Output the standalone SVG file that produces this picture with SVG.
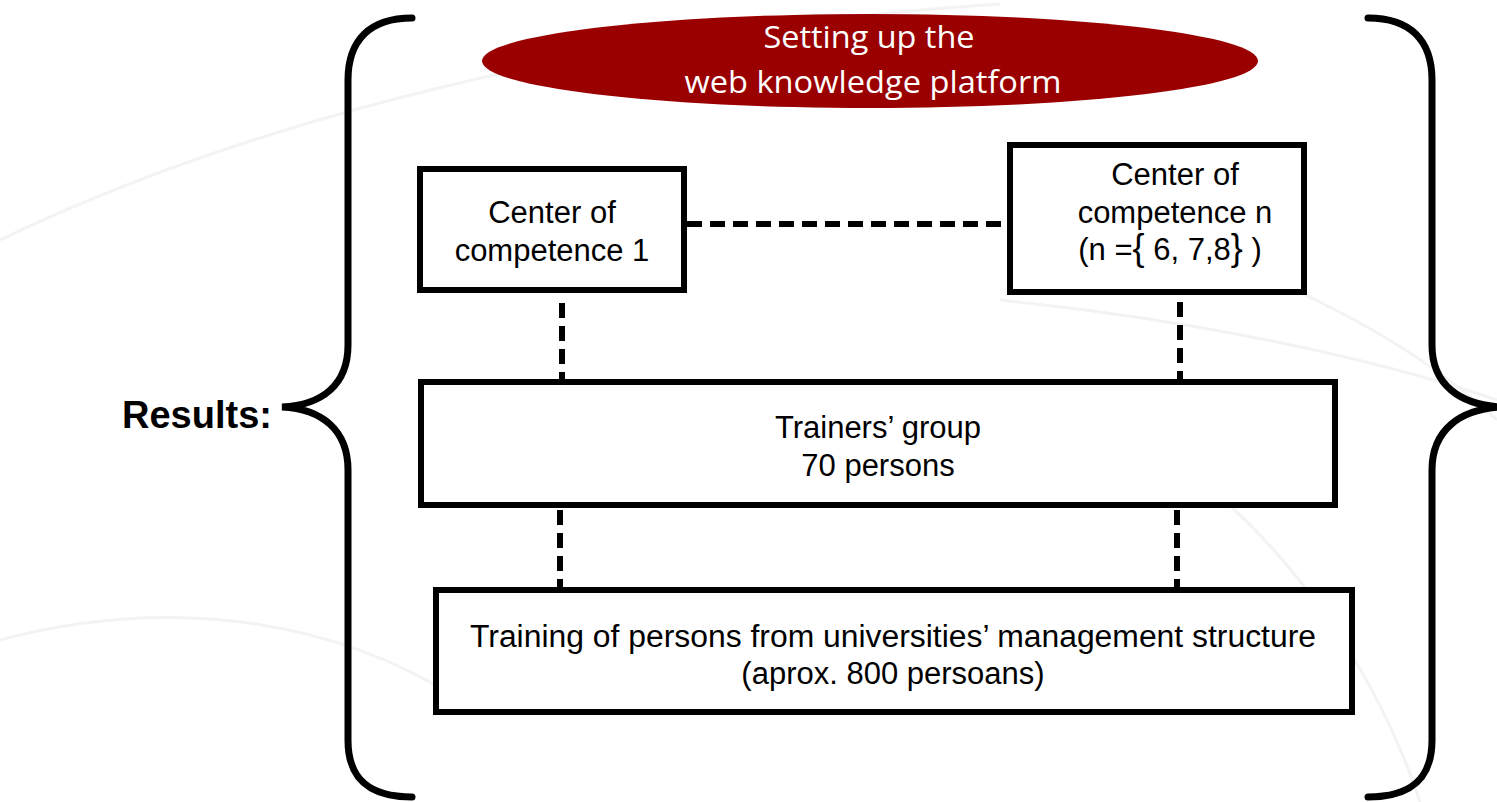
<svg xmlns="http://www.w3.org/2000/svg" width="1497" height="802" viewBox="0 0 1497 802">
  <style>
    .bg { fill: none; stroke: #f3f3f3; stroke-width: 3; }
    .brace { fill: none; stroke: #000; stroke-width: 7; stroke-linecap: round; }
    .box { fill: #fff; stroke: #000; stroke-width: 6; }
    .lbl { font-family: "Liberation Sans", Arial, sans-serif; font-size: 31px; fill: #000; text-anchor: middle; }
    .dash { fill: none; stroke: #000; stroke-width: 6; stroke-dasharray: 15 8; }
    .title { font-family: "Open Sans", "Liberation Sans", sans-serif; font-size: 31px; fill: #fff; text-anchor: middle; }
  </style>
  <rect x="0" y="0" width="1497" height="802" fill="#fff"/>
  <g id="background">
    <path class="bg" d="M0,240 C250,120 600,30 1000,4"/>
    <path class="bg" d="M1100,220 C1250,260 1400,330 1497,420"/>
    <path class="bg" d="M1000,300 C1200,320 1380,360 1497,400"/>
    <path class="bg" d="M1200,480 C1300,560 1380,680 1420,802"/>
    <path class="bg" d="M0,640 C150,600 320,610 460,700"/>
  </g>
  <g id="left-brace">
    <path class="brace" d="M412,18 C370,18 348,40 348,80 L348,345 C348,385 322,405 282,407 C322,409 348,430 348,470 L348,740 C348,780 370,797 412,797"/>
  </g>
  <g id="right-brace">
    <path class="brace" d="M1368,18 C1410,18 1432,40 1432,80 L1432,345 C1432,385 1460,405 1502,407 C1460,409 1432,430 1432,470 L1432,740 C1432,780 1410,797 1368,797"/>
  </g>
  <g id="results">
    <text x="122" y="428" font-family="'Liberation Sans', Arial, sans-serif" font-size="38" font-weight="bold" fill="#000">Results:</text>
  </g>
  <g id="platform">
    <ellipse cx="870" cy="61" rx="388" ry="47" fill="#9a0000"/>
    <text class="title" x="869" y="48" textLength="211" lengthAdjust="spacingAndGlyphs">Setting up the</text>
    <text class="title" x="873" y="93" textLength="377" lengthAdjust="spacingAndGlyphs">web knowledge platform</text>
  </g>
  <g id="connectors">
    <line class="dash" x1="687" y1="224" x2="1007" y2="224"/>
    <line class="dash" x1="562" y1="303" x2="562" y2="380"/>
    <line class="dash" x1="1180" y1="302" x2="1180" y2="380"/>
    <line class="dash" x1="560" y1="510" x2="560" y2="588"/>
    <line class="dash" x1="1177" y1="510" x2="1177" y2="588"/>
  </g>
  <g id="center1">
    <rect class="box" x="420" y="169" width="264" height="121"/>
    <text class="lbl" x="552" y="223">Center of</text>
    <text class="lbl" x="552" y="261">competence 1</text>
  </g>
  <g id="centern">
    <rect class="box" x="1010" y="145" width="294" height="147"/>
    <text class="lbl" x="1175" y="185">Center of</text>
    <text class="lbl" x="1175" y="223">competence n</text>
    <text class="lbl" x="1170" y="260">(n =<tspan font-size="36">{</tspan> 6, 7,8<tspan font-size="36">}</tspan> )</text>
  </g>
  <g id="trainers">
    <rect class="box" x="421" y="382" width="914" height="123"/>
    <text class="lbl" x="878" y="438">Trainers’ group</text>
    <text class="lbl" x="878" y="476">70 persons</text>
  </g>
  <g id="training">
    <rect class="box" x="436" y="590" width="916" height="122"/>
    <text class="lbl" x="893" y="647" textLength="846" lengthAdjust="spacingAndGlyphs">Training of persons from universities’ management structure</text>
    <text class="lbl" x="893" y="684">(aprox. 800 persoans)</text>
  </g>
</svg>
